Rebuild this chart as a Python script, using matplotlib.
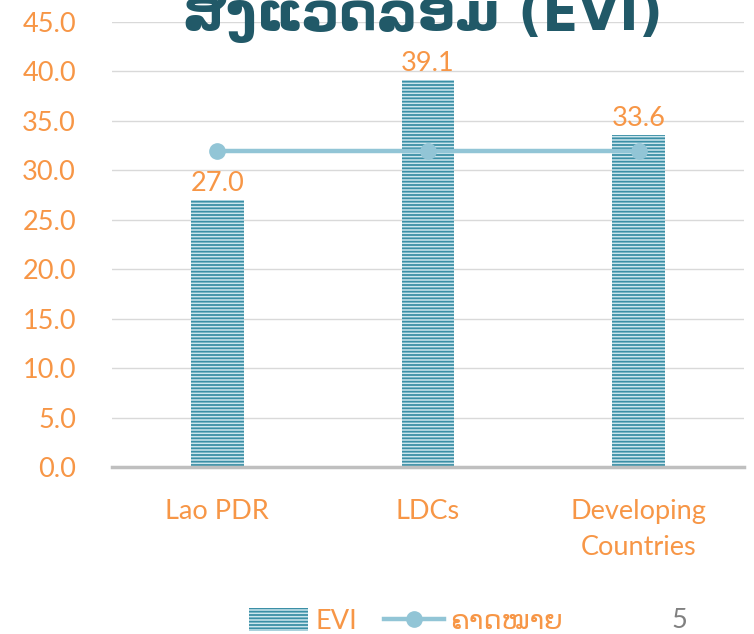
import matplotlib.pyplot as plt
from matplotlib.patches import Patch
from matplotlib.lines import Line2D

plt.rcParams['font.family'] = ['Lato', 'DejaVu Sans']
plt.rcParams['hatch.linewidth'] = 1.3

categories = ["Lao PDR", "LDCs", "Developing\nCountries"]
evi = [27.0, 39.1, 33.6]
target = [32.0, 32.0, 32.0]
yticks = [0, 5, 10, 15, 20, 25, 30, 35, 40, 45]

ORANGE = "#F79646"
TEAL = "#3B8FA6"
W, H = 754, 634

fig = plt.figure(figsize=(W / 100, H / 100), dpi=100)
ax = fig.add_axes([112 / W, 1 - 467 / H, (744 - 112) / W, (467 - 22) / H])

x = range(len(categories))
bars = ax.bar(x, evi, width=0.25, color="#CDE6ED", edgecolor=TEAL, hatch="-----", linewidth=0, zorder=3)
ax.plot(x, target, color="#92C5D6", lw=3.2, marker="o", ms=11, zorder=4)

for xi, v in zip(x, evi):
    ax.text(xi, v + 0.4, f"{v:.1f}", ha="center", va="bottom", color=ORANGE, fontsize=19.5)

ax.set_xlim(-0.5, 2.5)
ax.set_ylim(0, 45)
ax.set_yticks(yticks)
ax.set_yticklabels([f"{t:.1f}" for t in yticks])
ax.set_xticks(list(x))
ax.set_xticklabels(categories, linespacing=1.55)
ax.tick_params(axis="both", length=0, labelsize=19.5, labelcolor=ORANGE)
ax.tick_params(axis="y", pad=26)
ax.tick_params(axis="x", pad=23)
ax.grid(axis="y", color="#D9D9D9", lw=1, zorder=0)
ax.set_axisbelow(True)
for s in ["left", "right", "top"]:
    ax.spines[s].set_visible(False)
ax.spines["bottom"].set_color("#BFBFBF")
ax.spines["bottom"].set_linewidth(2.5)
ax.spines["bottom"].set_zorder(5)

fig.text(423 / W, 1 - 30 / H, "ສິ່ງແວດລ້ອມ (EVI)", ha="center", va="baseline",
         fontsize=38, fontweight="bold", color="#215968", family=["DejaVu Sans"])

handles = [Patch(facecolor="#CDE6ED", edgecolor=TEAL, hatch="-----", linewidth=0),
           Line2D([0], [0], color="#92C5D6", lw=3.2, marker="o", ms=11)]
leg = fig.legend(handles, ["EVI", "ຄາດໝາຍ"], loc="center", bbox_to_anchor=(406 / W, 1 - 621 / H),
                 ncol=2, frameon=False, fontsize=19.5, handlelength=2.2, handleheight=0.9,
                 handletextpad=0.25, columnspacing=1.0)
for t in leg.get_texts():
    t.set_color(ORANGE)

fig.text(679 / W, 1 - 620 / H, "5", ha="center", va="center", fontsize=19.5, color="#808080")

fig.savefig("out.png", dpi=100)
